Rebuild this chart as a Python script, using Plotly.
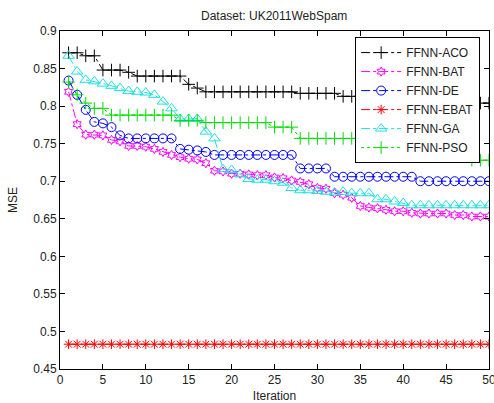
import plotly.graph_objects as go

iterations = list(range(1, 51))

aco = [0.871, 0.871, 0.867, 0.867, 0.848, 0.848, 0.848, 0.845, 0.840, 0.840,
       0.840, 0.840, 0.840, 0.840, 0.829, 0.824] + [0.819] * 11 + [0.817] * 5 + [0.813] * 8 + [0.804] * 10

bat = [0.819, 0.776, 0.762, 0.762, 0.761, 0.755, 0.753, 0.747, 0.747, 0.746,
       0.743, 0.739, 0.735, 0.732, 0.730, 0.729, 0.724, 0.714, 0.713, 0.710,
       0.710, 0.709, 0.708, 0.708, 0.705, 0.704, 0.701, 0.699, 0.696, 0.691,
       0.690, 0.684, 0.682, 0.678, 0.667, 0.665, 0.664, 0.662, 0.660, 0.660,
       0.658, 0.657, 0.657, 0.657, 0.657, 0.655, 0.655, 0.653, 0.653, 0.653]

de = [0.834, 0.815, 0.795, 0.779, 0.777, 0.772, 0.761] + [0.757] * 6 + \
     [0.743, 0.742, 0.741, 0.739] + [0.735] * 10 + [0.717] * 4 + [0.706] * 10 + [0.700] * 9

ebat = [0.483] * 50

ga = [0.867, 0.846, 0.835, 0.833, 0.830, 0.827, 0.824, 0.820, 0.819, 0.818,
      0.815, 0.806, 0.797, 0.783, 0.783, 0.783, 0.766, 0.757, 0.716, 0.715,
      0.709, 0.703, 0.702, 0.702, 0.700, 0.698, 0.691, 0.688, 0.688, 0.687,
      0.686, 0.685, 0.686, 0.684, 0.684, 0.684, 0.676, 0.676, 0.673, 0.671] + [0.668] * 10

pso = [0.832, 0.815, 0.804, 0.797, 0.797] + [0.788] * 8 + [0.781] * 3 + [0.778] * 8 + \
      [0.772] * 3 + [0.757] * 11 + [0.735] * 9 + [0.728] * 3

series = [
    ("FFNN-ACO", aco, "#000000", "cross-thin-open", 9, "dashdot"),
    ("FFNN-BAT", bat, "#ff00ff", "hexagram-open", 7, "dashdot"),
    ("FFNN-DE", de, "#0000ff", "circle-open", 9, "dashdot"),
    ("FFNN-EBAT", ebat, "#ff0000", "asterisk-open", 8, "dashdot"),
    ("FFNN-GA", ga, "#22e0e0", "triangle-up-open", 10, "dashdot"),
    ("FFNN-PSO", pso, "#00dd00", "cross-thin-open", 9, "dot"),
]

fig = go.Figure()
for name, vals, color, sym, size, dash in series:
    fig.add_trace(go.Scatter(
        x=iterations, y=vals, name=name, mode="lines+markers",
        line=dict(color=color, width=1, dash=dash),
        marker=dict(symbol=sym, size=size, color=color, line=dict(color=color, width=1)),
    ))

font = "Liberation Sans, Arial, sans-serif"
axis_common = dict(
    showline=True, linecolor="#000000", linewidth=1, mirror="ticks",
    ticks="inside", ticklen=5, tickcolor="#000000", automargin=False,
    showgrid=False, zeroline=False, ticklabeloverflow="allow",
    tickfont=dict(family=font, size=12, color="#222222"),
)

fig.update_layout(
    width=494, height=403,
    margin=dict(l=60, r=5, t=31, b=34),
    paper_bgcolor="white", plot_bgcolor="white",
    title=dict(text="Dataset: UK2011WebSpam", x=0.555, xanchor="center", y=0.962, yanchor="middle",
               font=dict(family=font, size=12, color="#222222")),
    xaxis=dict(range=[0, 50], dtick=5, tick0=0,
               title=dict(text="Iteration", font=dict(family=font, size=12, color="#222222"), standoff=8),
               **axis_common),
    yaxis=dict(range=[0.45, 0.9], dtick=0.05, tick0=0.45,
               title=dict(text="MSE", font=dict(family=font, size=12, color="#222222"), standoff=13),
               **axis_common),
    legend=dict(x=0.688, y=0.982, xanchor="left", yanchor="top",
                bgcolor="white", bordercolor="#000000", borderwidth=1,
                font=dict(family=font, size=12, color="#222222"),
                itemwidth=40, tracegroupgap=0),
    showlegend=True,
)

fig.write_html("out.html")
